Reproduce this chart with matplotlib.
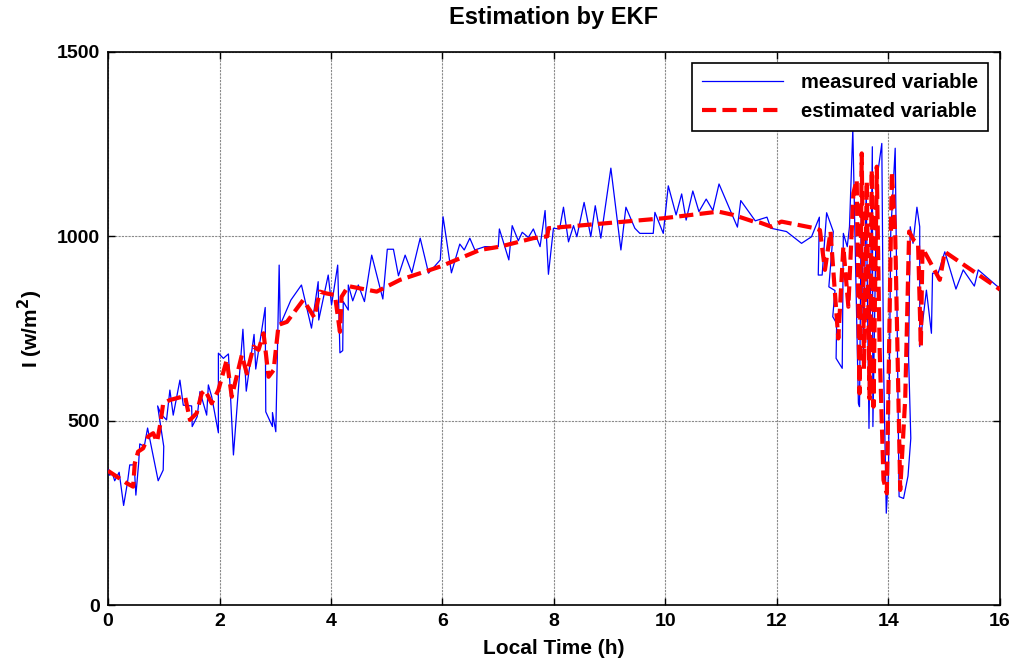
import matplotlib
matplotlib.use("Agg")
import matplotlib.pyplot as plt

plt.rcParams['font.family'] = ['Liberation Sans', 'DejaVu Sans']

# measured variable (time in h, irradiance in W/m^2)
meas_t = [0.00, 0.03, 0.08, 0.12, 0.20, 0.28, 0.35, 0.39, 0.47, 0.50, 0.55, 0.57,
          0.65, 0.71, 0.90, 0.99, 1.00, 0.89, 0.95, 1.05, 1.11, 1.17, 1.29, 1.35,
          1.50, 1.51, 1.60, 1.65, 1.77, 1.80, 1.86, 1.98, 1.98, 2.07, 2.16, 2.25,
          2.42, 2.48, 2.62, 2.65, 2.82, 2.83, 2.95, 2.95, 3.01, 3.07, 3.09, 3.28,
          3.47, 3.65, 3.77, 3.78, 3.95, 4.01, 4.12, 4.16, 4.21, 4.22, 4.31, 4.31,
          4.39, 4.49, 4.60, 4.73, 4.93, 5.01, 5.12, 5.21, 5.33, 5.45, 5.60, 5.75,
          5.96, 6.01, 6.16, 6.31, 6.39, 6.49, 6.58, 6.76, 7.00, 7.02, 7.19, 7.25,
          7.36, 7.43, 7.54, 7.63, 7.75, 7.84, 7.90, 7.99, 8.10, 8.17, 8.26, 8.35,
          8.41, 8.54, 8.66, 8.74, 8.84, 9.02, 9.20, 9.29, 9.45, 9.54, 9.78, 9.81,
          9.96, 10.05, 10.19, 10.29, 10.37, 10.49, 10.60, 10.73, 10.85, 10.96, 11.29, 11.35,
          11.61, 11.82, 11.89, 12.17, 12.44, 12.62, 12.76, 12.74, 12.81, 12.89, 13.01, 12.93,
          13.04, 13.00, 13.07, 13.06, 13.17, 13.19, 13.26, 13.30, 13.36, 13.46, 13.48, 13.52,
          13.55, 13.60, 13.65, 13.71, 13.72, 13.79, 13.88, 13.89, 13.91, 13.96, 14.00, 14.04,
          14.12, 14.19, 14.27, 14.35, 14.40, 14.36, 14.39, 14.44, 14.51, 14.56, 14.56, 14.68,
          14.77, 14.79, 14.89, 15.01, 15.21, 15.34, 15.54, 15.61, 15.97, 16.00]
meas_v = [368, 352, 357, 337, 360, 270, 333, 380, 380, 298, 385, 437,
          430, 480, 337, 366, 430, 540, 518, 502, 583, 515, 610, 542,
          540, 484, 511, 579, 515, 597, 565, 467, 683, 669, 681, 407,
          748, 580, 734, 640, 807, 524, 484, 522, 470, 922, 760, 827,
          868, 751, 877, 773, 895, 814, 922, 684, 690, 823, 800, 868,
          825, 868, 823, 949, 830, 965, 965, 893, 949, 901, 995, 900,
          936, 1053, 901, 979, 963, 995, 963, 972, 972, 1020, 936, 1029,
          988, 1011, 997, 1020, 972, 1070, 897, 1022, 1020, 1079, 985, 1029,
          999, 1092, 999, 1083, 995, 1185, 963, 1079, 1022, 1008, 1008, 1065,
          1008, 1137, 1058, 1115, 1044, 1123, 1067, 1101, 1070, 1142, 1025, 1097,
          1042, 1052, 1022, 1013, 981, 999, 1052, 895, 895, 1064, 1013, 863,
          853, 782, 764, 669, 642, 1008, 972, 1026, 1290, 547, 538, 1225,
          665, 1126, 479, 1243, 484, 1153, 1252, 1062, 665, 249, 357, 1008,
          1239, 294, 289, 350, 452, 674, 1026, 981, 1079, 1026, 701, 854,
          737, 900, 900, 958, 857, 909, 865, 909, 862, 855]

# estimated variable (EKF)
est_t = [0.00, 0.16, 0.34, 0.45, 0.48, 0.54, 0.63, 0.72, 0.81, 0.88, 0.94, 0.99,
         1.11, 1.38, 1.47, 1.59, 1.68, 1.74, 1.86, 1.98, 2.13, 2.22, 2.40, 2.49,
         2.61, 2.70, 2.79, 2.88, 2.97, 3.06, 3.21, 3.50, 3.62, 3.70, 3.80, 3.92,
         4.07, 4.16, 4.19, 4.31, 4.82, 5.24, 5.96, 6.67, 7.03, 7.63, 7.88, 7.90,
         9.96, 10.95, 11.22, 11.58, 11.70, 11.90, 12.08, 12.68, 12.77, 12.86, 12.96, 13.07,
         13.10, 13.19, 13.28, 13.37, 13.43, 13.48, 13.52, 13.56, 13.61, 13.66, 13.70, 13.73,
         13.79, 13.84, 13.91, 13.97, 14.06, 14.12, 14.21, 14.30, 14.37, 14.45, 14.53, 14.58,
         14.61, 14.92, 15.01, 15.97, 16.00]
est_v = [364, 348, 330, 321, 384, 416, 425, 457, 466, 443, 493, 547,
         556, 567, 502, 520, 574, 583, 547, 583, 665, 565, 678, 628,
         701, 692, 737, 619, 637, 760, 768, 827, 800, 780, 850, 845,
         841, 741, 836, 865, 850, 882, 918, 963, 972, 995, 1000, 1022,
         1049, 1067, 1058, 1040, 1037, 1026, 1040, 1022, 1017, 909, 1013, 782,
         723, 972, 809, 1117, 1153, 574, 1225, 640, 1150, 560, 1180, 538,
         1189, 700, 339, 303, 1175, 1008, 312, 560, 1013, 990, 981, 701,
         968, 882, 958, 859, 855]

fig = plt.figure(figsize=(10.15, 6.66), dpi=100)
ax = fig.add_axes([108/1015, 61/666, 892/1015, 553/666])

ax.plot(meas_t, meas_v, color='#0000ff', lw=0.9, label='measured variable', zorder=3)
ax.plot(est_t, est_v, color='#ff0000', lw=3, ls=(0, (3.4, 1.5)), label='estimated variable', zorder=4)

ax.set_xlim(0, 16)
ax.set_ylim(0, 1500)
ax.set_xticks(range(0, 17, 2))
ax.set_yticks([0, 500, 1000, 1500])
ax.grid(True, color='#8a8a8a', lw=0.8, ls=(0, (2, 1)))
ax.tick_params(direction='in', top=True, right=True, length=5, width=1,
               labelsize=14, pad=6)
for lab in ax.get_xticklabels() + ax.get_yticklabels():
    lab.set_fontweight('bold')
for s in ax.spines.values():
    s.set_linewidth(1.2)

ax.set_title('Estimation by EKF', fontsize=17, fontweight='bold', pad=20)
ax.set_xlabel('Local Time (h)', fontsize=15, fontweight='bold', labelpad=6)
ax.set_ylabel('I (w/m$^\\mathbf{2}$)', fontsize=15, fontweight='bold', labelpad=8)

leg = ax.legend(loc='upper right', handlelength=4.0, borderpad=0.5,
                labelspacing=0.5, handletextpad=0.9, fancybox=False, framealpha=1,
                edgecolor='black', prop={'weight': 'bold', 'size': 14.5},
                bbox_to_anchor=(0.998, 0.999))
leg.get_frame().set_linewidth(1.2)

fig.savefig('out.png', dpi=100)
